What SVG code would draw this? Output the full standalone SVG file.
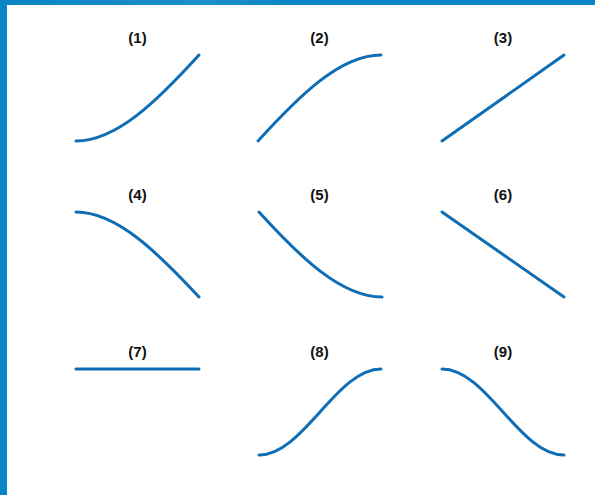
<svg xmlns="http://www.w3.org/2000/svg" width="595" height="495" viewBox="0 0 595 495">
<defs>
<linearGradient id="topbar" x1="0" y1="0" x2="1" y2="0">
<stop offset="0" stop-color="#0a84c4"/>
<stop offset="0.35" stop-color="#1a8fcc"/>
<stop offset="0.5" stop-color="#0a84c4"/>
<stop offset="1" stop-color="#0a84c4"/>
</linearGradient>
</defs>
<style>
.curve{fill:none;stroke:#0e6db4;stroke-width:3;stroke-linecap:round}
.lbl{font-family:"Liberation Sans",Arial,sans-serif;font-size:15px;font-weight:bold;fill:#111;text-anchor:middle}
</style>
<rect x="0" y="0" width="595" height="495" fill="#ffffff"/>
<rect x="0" y="0" width="595" height="5" fill="url(#topbar)"/>
<rect x="0" y="0" width="7" height="495" fill="#0a84c4"/>
<g id="labels">
<text class="lbl" x="137.5" y="43">(1)</text>
<text class="lbl" x="319.5" y="43">(2)</text>
<text class="lbl" x="503" y="43">(3)</text>
<text class="lbl" x="137.5" y="200">(4)</text>
<text class="lbl" x="319.5" y="200">(5)</text>
<text class="lbl" x="503" y="200">(6)</text>
<text class="lbl" x="137.5" y="357">(7)</text>
<text class="lbl" x="319.5" y="357">(8)</text>
<text class="lbl" x="503" y="357">(9)</text>
</g>
<g id="curves">
<path id="c1" class="curve" d="M76,141 C117,141 158,100 199,55"/>
<path id="c2" class="curve" d="M258,141 C299,96 340,55 381,55"/>
<path id="c3" class="curve" d="M442,141 L564,55"/>
<path id="c4" class="curve" d="M76,212 C117,212 158,253 199,297"/>
<path id="c5" class="curve" d="M259,212 C300,257 341,297 382,297"/>
<path id="c6" class="curve" d="M442,212 L564,297"/>
<path id="c7" class="curve" d="M76,369 L199,369"/>
<path id="c8" class="curve" d="M259,455 C303.5,455 336.5,369 381,369"/>
<path id="c9" class="curve" d="M442,369 C486.5,369 519.5,455 564,455"/>
</g>
</svg>
